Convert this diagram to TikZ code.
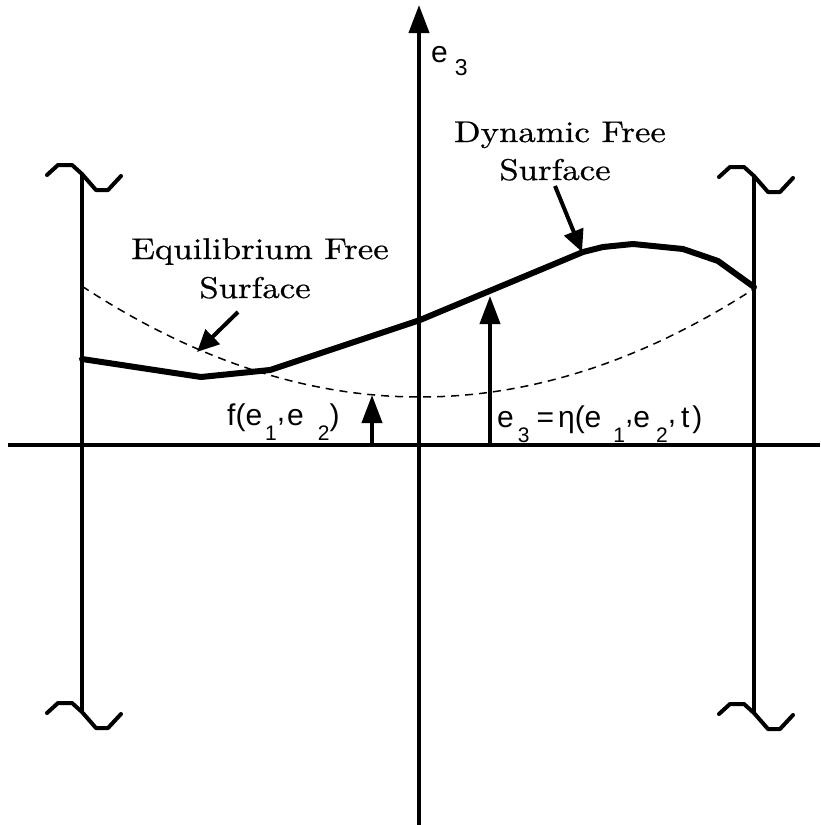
\documentclass[tikz,border=0pt]{standalone}
\usepackage{fontspec}
\usepackage{graphicx}
\usetikzlibrary{arrows.meta}
\newfontfamily\lsans{Liberation Sans}
\newfontfamily\labfont{lmroman10-regular.otf}[FakeBold=0.6]
\newcommand\sbs[1]{\raisebox{-15pt}{\fontsize{21}{21}\selectfont #1}}
\newcommand\rcomma{\raisebox{4pt}{,}}
\newcommand\wide[1]{\scalebox{1.16}[1]{#1}}
\tikzset{
  axisline/.style={line width=4pt},
  hline/.style={line width=3.5pt},
  barline/.style={line width=4.5pt},
  dynline/.style={line width=6pt, line join=round, line cap=round},
  eqline/.style={line width=1.5pt, dash pattern=on 8pt off 6pt},
  bigtip/.style={-{Triangle[length=28pt,width=20pt]}},
  ptr/.style={line width=4pt, -{Triangle[length=22pt,width=20pt]}},
  lab/.style={font=\labfont\fontsize{30}{32}\selectfont, inner sep=0pt},
  mlab/.style={font=\lsans\fontsize{30}{32}\selectfont, inner sep=0pt},
  brksym/.pic={\draw[line width=4pt, line join=round, line cap=round]
     (-35,1) -- (-24,-9) -- (-10,-9) -- (0,0) -- (14,16) -- (26,16) -- (39,2);}
}
\begin{document}
\begin{tikzpicture}[x=1pt,y=-1pt]
\useasboundingbox (0,0) rectangle (820,825);
% axes
\coordinate (yb) at (419,825);
\coordinate (yt) at (419,5);
\coordinate (xl) at (8,445);
\coordinate (xr) at (820,445);
\draw[axisline,bigtip] (yb) -- (yt);
\draw[hline] (xl) -- (xr);
\node[mlab, anchor=base west] (e3) at (431,62)
  {e\hspace{7pt}\raisebox{-13pt}{\fontsize{23}{23}\selectfont 3}};
% bars with break symbols
\coordinate (lt) at (82,174);
\coordinate (lb) at (82,712);
\coordinate (rt) at (754,176);
\coordinate (rb) at (754,713);
\draw[barline] (lt) -- (lb);
\draw[barline] (rt) -- (rb);
\pic at (lt) {brksym};
\pic at (lb) {brksym};
\pic at (rt) {brksym};
\pic at (rb) {brksym};
% equilibrium free surface (dashed)
\draw[eqline] plot[domain=82:754, samples=90, smooth] (\x, {397-9.7*((\x-420)/100)^2});
% dynamic free surface (thick)
\draw[dynline] (82,359) -- (201,377) -- (270,370) -- (420,320) -- (583,252) -- (603,247) -- (633,244) -- (683,249) -- (718,261) -- (754,287);
% height arrows
\coordinate (fa) at (372,445);
\coordinate (fb) at (372,395);
\coordinate (ha) at (490,445);
\coordinate (hb) at (490,296);
\draw[axisline,bigtip] (fa) -- (fb);
\draw[axisline,bigtip] (ha) -- (hb);
\node[mlab, anchor=base west] (flab) at (227,425)
  {f(e\hspace{3pt}\sbs{1}\rcomma\hspace{2pt}e\hspace{14pt}\sbs{2})};
\node[mlab, anchor=base west] (hlab) at (497,427)
  {e\hspace{4pt}\sbs{3}\hspace{7pt}=\hspace{4pt}η(e\hspace{12pt}\sbs{1}\rcomma e\hspace{6pt}\sbs{2}\rcomma\hspace{5pt}t\hspace{3pt})};
% labels
\node[lab, anchor=base] (eqt) at (260,259) {\wide{Equilibrium Free}};
\node[lab, anchor=base] (eqs) at (255,298) {\wide{Surface}};
\node[lab, anchor=base] (dyt) at (560,142) {\wide{Dynamic Free}};
\node[lab, anchor=base] (dys) at (555,180) {\wide{Surface}};
\coordinate (eqa) at (238,312);
\coordinate (eqb) at (197,352);
\coordinate (dya) at (555,186);
\coordinate (dyb) at (582,252);
\draw[ptr] (eqa) -- (eqb);
\draw[ptr] (dya) -- (dyb);
\end{tikzpicture}
\end{document}
